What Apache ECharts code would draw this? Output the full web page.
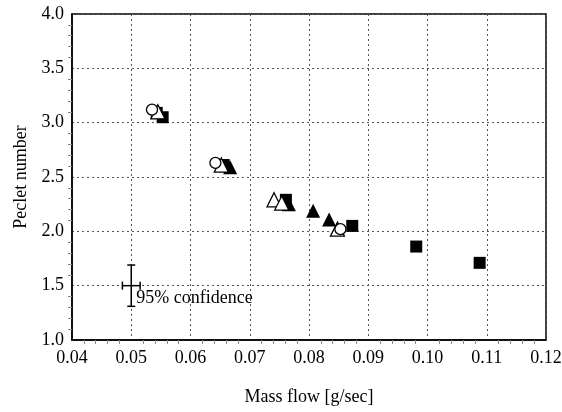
<!DOCTYPE html>
<html>
<head>
<meta charset="utf-8">
<script src="https://cdn.jsdelivr.net/npm/echarts@6/dist/echarts.min.js"></script>
<style>
  html, body { margin: 0; padding: 0; background: #fff; }
  #chart { width: 562px; height: 412px; }
</style>
</head>
<body>
<div id="chart"></div>
<script>
// Measured points: [mass flow (g/sec), Peclet number]
const openCircles = [[0.0535, 3.12], [0.0642, 2.63], [0.0853, 2.02]];
const openTriangles = [[0.0545, 3.10], [0.0652, 2.61], [0.0741, 2.29], [0.0754, 2.26], [0.0848, 2.02]];
const filledTriangles = [[0.0667, 2.59], [0.0766, 2.25], [0.0807, 2.19], [0.0834, 2.11]];
const filledSquares = [[0.0543, 3.09], [0.0553, 3.05], [0.0656, 2.61], [0.0761, 2.29], [0.0873, 2.05], [0.0981, 1.86], [0.1088, 1.71]];

// Representative 95% confidence interval
const errorCenter = [0.050, 1.50];
const errorX = 0.0015;
const errorY = 0.19;
const errorLabel = '95% confidence';

const xTicks = { min: 0.04, max: 0.12, step: 0.01 };
const yTicks = { min: 1.0, max: 4.0, step: 0.5 };

const font = 'Liberation Serif';
const chart = echarts.init(document.getElementById('chart'));

function axisCommon() {
  return {
    axisLine: { show: true, onZero: false, lineStyle: { color: '#000', width: 1.5 } },
    axisTick: { show: false },
    minorTick: { show: true, splitNumber: 5, length: 4, lineStyle: { color: '#888', width: 1 } },
    splitLine: { show: true, lineStyle: { color: '#555', type: [2, 3], width: 1 } },
    axisLabel: { color: '#000', fontFamily: font, fontSize: 18, margin: 8 },
    nameTextStyle: { color: '#000', fontFamily: font, fontSize: 18 }
  };
}

const option = {
  animation: false,
  backgroundColor: '#fff',
  grid: {
    left: 72, right: 16, top: 14, bottom: 72, outerBoundsMode: 'none', containLabel: false,
    show: true, borderColor: '#000', borderWidth: 1.5
  },
  xAxis: Object.assign(axisCommon(), {
    type: 'value', min: xTicks.min, max: xTicks.max, interval: xTicks.step,
    name: 'Mass flow [g/sec]', nameLocation: 'middle', nameGap: 48,
    axisLabel: Object.assign(axisCommon().axisLabel, { margin: 9, formatter: v => v.toFixed(2) })
  }),
  yAxis: Object.assign(axisCommon(), {
    type: 'value', min: yTicks.min, max: yTicks.max, interval: yTicks.step,
    name: 'Peclet number', nameLocation: 'middle', nameGap: 42,
    axisLabel: Object.assign(axisCommon().axisLabel, { formatter: v => v.toFixed(1) })
  }),
  series: [
    {
      type: 'scatter', data: filledSquares, symbol: 'rect', symbolSize: 12,
      itemStyle: { color: '#000', opacity: 1 }, z: 3
    },
    {
      type: 'scatter', data: filledTriangles, symbol: 'triangle', symbolSize: 14,
      itemStyle: { color: '#000', opacity: 1 }, z: 4
    },
    {
      type: 'scatter', data: openTriangles, symbol: 'triangle', symbolSize: 14,
      itemStyle: { color: '#fff', borderColor: '#000', borderWidth: 1.3, opacity: 1 }, z: 5
    },
    {
      type: 'scatter', data: openCircles, symbol: 'circle', symbolSize: 11,
      itemStyle: { color: '#fff', borderColor: '#000', borderWidth: 1.3, opacity: 1 }, z: 6
    },
    {
      type: 'custom',
      data: [[errorCenter[0], errorCenter[1], errorX, errorY]],
      z: 7,
      renderItem: function (params, api) {
        const cx = api.value(0), cy = api.value(1), dx = api.value(2), dy = api.value(3);
        const c = api.coord([cx, cy]);
        const l = api.coord([cx - dx, cy]);
        const r = api.coord([cx + dx, cy]);
        const t = api.coord([cx, cy + dy]);
        const b = api.coord([cx, cy - dy]);
        const cap = 4;
        const ls = { stroke: '#000', lineWidth: 1.5 };
        const line = (x1, y1, x2, y2) => ({ type: 'line', shape: { x1, y1, x2, y2 }, style: ls });
        return {
          type: 'group',
          children: [
            line(l[0], l[1], r[0], r[1]),
            line(t[0], t[1], b[0], b[1]),
            line(l[0], l[1] - cap, l[0], l[1] + cap),
            line(r[0], r[1] - cap, r[0], r[1] + cap),
            line(t[0] - cap, t[1], t[0] + cap, t[1]),
            line(b[0] - cap, b[1], b[0] + cap, b[1]),
            {
              type: 'text',
              x: c[0] + 5, y: c[1] + 13,
              style: { text: errorLabel, fill: '#000', font: '18px "Liberation Serif"', verticalAlign: 'middle', align: 'left' }
            }
          ]
        };
      }
    }
  ]
};
chart.setOption(option);
</script>
</body>
</html>
